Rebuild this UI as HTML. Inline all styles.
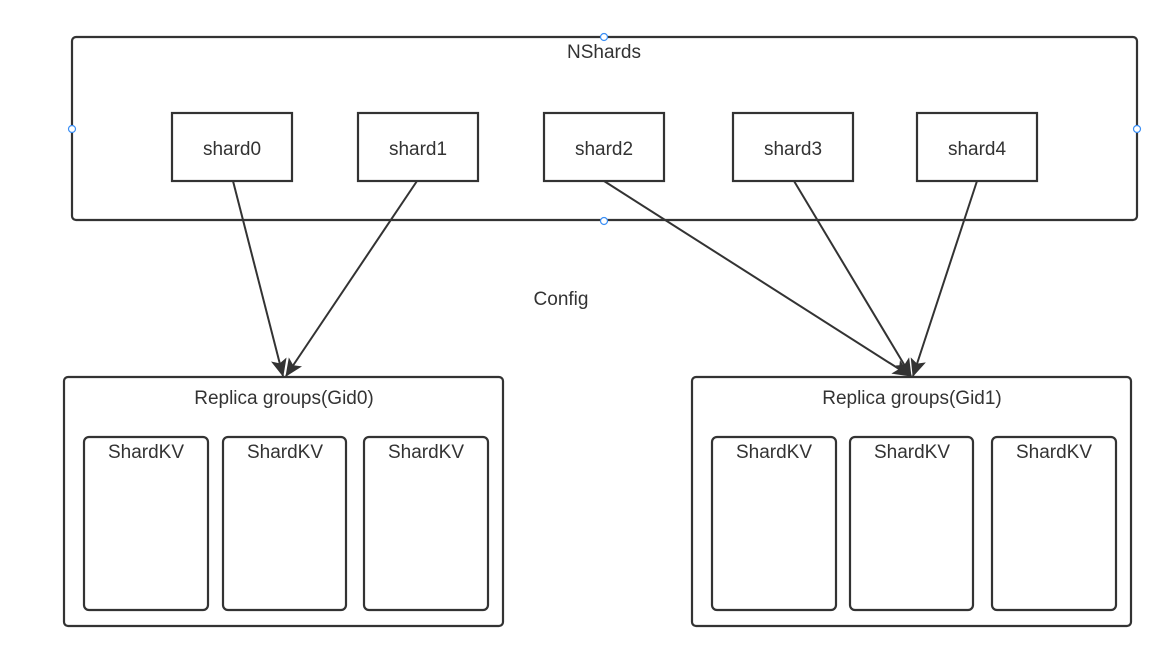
<!DOCTYPE html>
<html><head><meta charset="utf-8"><style>
html,body{margin:0;padding:0;background:#fff;}
svg{display:block;}
text{font-family:"Liberation Sans","Noto Sans CJK SC",sans-serif;font-size:19px;fill:#333;}
</style></head><body>
<svg width="1156" height="663" viewBox="0 0 1156 663" xmlns="http://www.w3.org/2000/svg">
<defs>
<marker id="a" markerWidth="18" markerHeight="16" refX="17" refY="8" orient="auto" markerUnits="userSpaceOnUse" viewBox="0 0 18 16">
<path d="M0,0 L18,8 L0,16 L4,8 Z" fill="#333"/>
</marker>
</defs>
<g fill="none" stroke="#333" stroke-width="2.2">
<rect x="72" y="37" width="1065" height="183" rx="4"/>
<rect x="172" y="113" width="120" height="68"/>
<rect x="358" y="113" width="120" height="68"/>
<rect x="544" y="113" width="120" height="68"/>
<rect x="733" y="113" width="120" height="68"/>
<rect x="917" y="113" width="120" height="68"/>
<rect x="64" y="377" width="439" height="249" rx="4"/>
<rect x="84" y="437" width="124" height="173" rx="5"/>
<rect x="223" y="437" width="123" height="173" rx="5"/>
<rect x="364" y="437" width="124" height="173" rx="5"/>
<rect x="692" y="377" width="439" height="249" rx="4"/>
<rect x="712" y="437" width="124" height="173" rx="5"/>
<rect x="850" y="437" width="123" height="173" rx="5"/>
<rect x="992" y="437" width="124" height="173" rx="5"/>
<line x1="233" y1="181" x2="283" y2="376" marker-end="url(#a)" stroke-width="2"/>
<line x1="417" y1="181" x2="286" y2="376" marker-end="url(#a)" stroke-width="2"/>
<line x1="604" y1="181" x2="910" y2="376" marker-end="url(#a)" stroke-width="2"/>
<line x1="794" y1="181" x2="911" y2="376" marker-end="url(#a)" stroke-width="2"/>
<line x1="977" y1="181" x2="913" y2="376" marker-end="url(#a)" stroke-width="2"/>
</g>
<g fill="#fff" stroke="#3b8ff5" stroke-width="1.2">
<circle cx="604" cy="37" r="3.5"/>
<circle cx="72" cy="129" r="3.5"/>
<circle cx="1137" cy="129" r="3.5"/>
<circle cx="604" cy="221" r="3.5"/>
</g>
<g text-anchor="middle">
<text x="604" y="58">NShards</text>
<text x="232" y="155">shard0</text>
<text x="418" y="155">shard1</text>
<text x="604" y="155">shard2</text>
<text x="793" y="155">shard3</text>
<text x="977" y="155">shard4</text>
<text x="561" y="305">Config</text>
<text x="284" y="404">Replica groups(Gid0)</text>
<text x="912" y="404">Replica groups(Gid1)</text>
<text x="146" y="458">ShardKV</text>
<text x="285" y="458">ShardKV</text>
<text x="426" y="458">ShardKV</text>
<text x="774" y="458">ShardKV</text>
<text x="912" y="458">ShardKV</text>
<text x="1054" y="458">ShardKV</text>
</g>
</svg>
</body></html>
